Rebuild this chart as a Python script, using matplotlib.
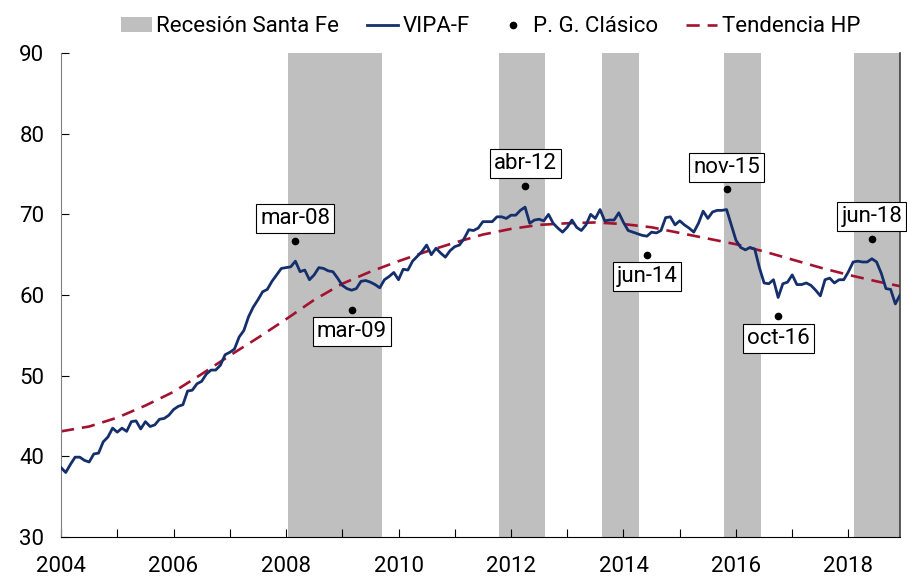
import matplotlib
matplotlib.use('Agg')
import matplotlib.pyplot as plt
import numpy as np

plt.rcParams['font.family'] = ['Roboto', 'DejaVu Sans']
fs = 16

# VIPA-F monthly, Jan 2004 - Dec 2018 (one row per year)
vipa = [
    38.6, 38.0, 39.0, 39.9, 39.9, 39.5, 39.3, 40.3, 40.4, 41.8, 42.4, 43.5,
    43.0, 43.5, 43.1, 44.3, 44.4, 43.4, 44.3, 43.7, 43.9, 44.6, 44.7, 45.1,
    45.8, 46.2, 46.4, 48.1, 48.2, 49.0, 49.3, 50.2, 50.7, 50.7, 51.3, 52.6,
    52.9, 53.3, 54.8, 55.6, 57.3, 58.5, 59.4, 60.4, 60.7, 61.7, 62.5, 63.3,
    63.4, 63.5, 64.2, 62.9, 63.1, 61.9, 62.5, 63.4, 63.3, 63.0, 62.9, 62.1,
    61.2, 60.8, 60.6, 60.8, 61.7, 61.8, 61.6, 61.3, 60.9, 61.9, 62.3, 62.8,
    61.9, 63.2, 63.1, 64.2, 64.8, 65.4, 66.2, 65.0, 65.8, 65.2, 64.7, 65.5,
    66.0, 66.2, 67.0, 68.1, 68.0, 68.3, 69.1, 69.1, 69.1, 69.7, 69.7, 69.5,
    69.9, 69.9, 70.5, 70.9, 68.9, 69.3, 69.4, 69.2, 70.0, 68.9, 68.3, 67.8,
    68.4, 69.3, 68.4, 68.0, 68.7, 70.0, 69.5, 70.6, 69.2, 69.3, 69.3, 70.2,
    69.0, 68.0, 67.8, 67.6, 67.4, 67.3, 67.8, 67.7, 68.0, 69.6, 69.7, 68.7,
    69.2, 68.7, 68.3, 67.8, 68.9, 70.4, 69.5, 70.3, 70.5, 70.5, 70.6, 68.7,
    66.8, 65.9, 65.6, 65.9, 65.7, 63.4, 61.5, 61.4, 61.9, 59.7, 61.4, 61.6,
    62.5, 61.3, 61.3, 61.5, 61.2, 60.6, 59.9, 61.9, 62.1, 61.5, 61.9, 61.9,
    62.9, 64.1, 64.2, 64.1, 64.1, 64.5, 64.1, 62.7, 60.8, 60.7, 58.9, 60.0,
]

# HP trend, read every 6 months (last point Dec 2018)
hp_month = [0, 6, 12, 18, 24, 30, 36, 42, 48, 54, 60, 66, 72, 78, 84, 90,
            96, 102, 108, 114, 120, 126, 132, 138, 144, 150, 156, 162, 168, 174, 179]
hp_vals = [43.1, 43.7, 44.8, 46.3, 48.0, 50.2, 52.5, 54.7, 57.0, 59.4, 61.4,
           62.9, 64.2, 65.4, 66.5, 67.5, 68.2, 68.7, 68.9, 69.0, 68.8, 68.4,
           67.7, 67.0, 66.3, 65.4, 64.4, 63.4, 62.5, 61.7, 61.1]

# turning points (classic business cycle)
pk_labels = ['mar-08', 'mar-09', 'abr-12', 'jun-14', 'nov-15', 'oct-16', 'jun-18']
pk_year = [2008, 2009, 2012, 2014, 2015, 2016, 2018]
pk_mon = [3, 3, 4, 6, 11, 10, 6]
pk_vals = [66.7, 58.2, 73.5, 65.0, 73.1, 57.4, 67.0]
pk_up = [True, False, True, False, True, False, True]

# recessions Santa Fe (fractional years)
rec_start = [2008.04, 2011.79, 2013.61, 2015.79, 2018.10]
rec_end = [2009.70, 2012.60, 2014.28, 2016.44, 2018.92]

navy = '#142f6b'
red = '#a3122e'
grey = '#bfbfbf'

x = 2004 + np.arange(len(vipa)) / 12.0
x_hp = 2004 + np.array(hp_month) / 12.0
x_pk = np.array(pk_year) + (np.array(pk_mon) - 1) / 12.0

fig = plt.figure(figsize=(9.07, 5.77), dpi=100)
ax = fig.add_axes([0.0673, 0.0693, 0.9250, 0.8387])

for i, (s, e) in enumerate(zip(rec_start, rec_end)):
    ax.axvspan(s, e, color=grey, lw=0, zorder=0,
               label='Recesión Santa Fe' if i == 0 else None)

ax.plot(x, vipa, color=navy, lw=2.0, label='VIPA-F', zorder=3)
ax.plot(x_pk, pk_vals, 'o', color='black', ms=4.5, ls='none',
        label='P. G. Clásico', zorder=4)
ax.plot(x_hp, hp_vals, color=red, lw=1.9, ls=(0, (5, 3)),
        label='Tendencia HP', zorder=2)

for lab, xp, yp, up in zip(pk_labels, x_pk, pk_vals, pk_up):
    ax.annotate(lab, (xp, yp), xytext=(0, 16 if up else -16),
                textcoords='offset points', ha='center', va='center',
                fontsize=fs, annotation_clip=False, zorder=5,
                bbox=dict(boxstyle='square,pad=0.18', fc='white', ec='black', lw=0.8))

ax.set_xlim(2004, x[-1])
ax.set_ylim(30, 90)
ax.set_xticks(np.arange(2004, 2019, 1))
ax.set_xticklabels([str(y) if y % 2 == 0 else '' for y in range(2004, 2019)])
ax.set_yticks(np.arange(30, 91, 10))
ax.tick_params(axis='both', direction='in', length=6, labelsize=fs, width=0.8)
ax.tick_params(axis='y', pad=12)
ax.tick_params(axis='x', pad=14)

ax.spines['top'].set_visible(False)
ax.spines['left'].set_color('#808080')
ax.spines['right'].set_color('#404040')
ax.spines['right'].set_linewidth(1.2)
ax.spines['bottom'].set_color('black')

ax.legend(loc='lower center', bbox_to_anchor=(0.512, 1.005), ncol=4, frameon=False,
          fontsize=fs, handlelength=1.4, handletextpad=0.2, columnspacing=1.25,
          borderaxespad=0.2)

plt.savefig('out.png', dpi=100)
